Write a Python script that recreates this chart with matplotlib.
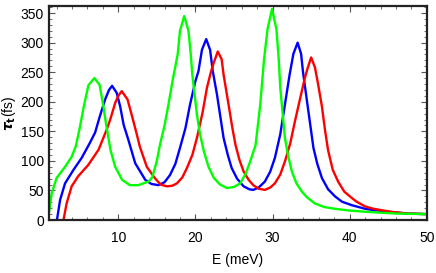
import matplotlib.pyplot as plt
from matplotlib.ticker import MultipleLocator

# values (E in meV, tau in fs)
e_green = [1.0, 1.37, 2.0, 3.1, 3.96, 4.5, 5.07, 5.5, 6.13, 6.9, 7.57, 8.0, 8.5, 9.0, 9.6,
           10.5, 11.5, 12.6, 13.9, 14.4, 15.0, 15.4, 16.0, 16.5, 17.1, 17.7, 18.0, 18.55,
           19.1, 19.4, 19.6, 20.2, 20.6, 21.1, 21.7, 22.4, 23.2, 24.1, 25.0, 25.8, 26.5,
           27.1, 27.8, 28.4, 28.9, 29.35, 29.93, 30.5, 30.8, 31.0, 31.6, 32.0, 32.5, 33.1,
           33.8, 34.5, 35.5, 36.7, 38.1, 40.0, 42.0, 46.0, 50.0]
tau_green = [11, 45, 71, 90, 107, 125, 160, 190, 228, 240, 229, 198, 156, 118, 90,
             68, 59, 59, 65, 72, 100, 127, 160, 195, 240, 280, 320, 345,
             320, 280, 246, 178, 145, 116, 90, 71, 60, 54, 56, 62, 78,
             99, 127, 195, 272, 323, 357, 323, 272, 224, 139, 110, 82, 62,
             48, 38, 28, 22, 19, 16, 14, 11, 10]

e_blue = [2.05, 2.46, 3.1, 4.2, 5.25, 6.3, 7.0, 7.6, 8.3, 8.8, 9.2, 9.8, 10.25, 10.7, 11.3,
          12.2, 13.5, 14.3, 15.2, 16.0, 16.7, 17.4, 18.0, 18.7, 19.3, 20.0, 20.4, 20.85,
          21.4, 21.9, 22.25, 22.8, 23.65, 24.2, 24.7, 25.4, 26.25, 27.0, 27.5, 28.2, 29.0,
          29.7, 30.3, 31.0, 31.6, 32.2, 32.7, 33.25, 33.7, 33.95, 34.4, 34.9, 35.3, 35.8,
          36.4, 37.2, 38.1, 39.0, 40.3, 42.0, 43.0, 45.0, 47.5, 50.0]
tau_blue = [0, 34, 62, 85, 105, 130, 148, 175, 204, 220, 227, 215, 192, 161, 136,
            96, 68, 61, 59, 64, 76, 95, 122, 155, 195, 235, 252, 288,
            306, 288, 252, 212, 139, 110, 88, 70, 57, 52, 51, 55, 65,
            82, 105, 145, 195, 245, 281, 300, 281, 250, 207, 160, 122, 95,
            71, 52, 40, 31, 25, 19, 17, 14, 11, 10]

e_red = [2.9, 3.3, 3.96, 4.8, 6.1, 7.45, 8.5, 8.96, 9.6, 10.0, 10.45, 11.2, 11.8, 12.4,
         12.8, 13.7, 14.8, 15.5, 16.3, 17.0, 17.6, 18.3, 18.9, 19.6, 20.2, 20.9, 21.5,
         22.0, 22.35, 22.9, 23.4, 23.65, 24.3, 24.8, 25.2, 25.7, 26.25, 26.9, 27.5, 28.2,
         29.0, 29.7, 30.3, 31.0, 31.6, 32.3, 32.9, 33.6, 34.2, 34.55, 35.0, 35.5, 35.9,
         36.4, 36.8, 37.2, 37.8, 38.5, 39.3, 40.3, 40.9, 42.0, 43.1, 45.3, 47.5, 50.0]
tau_red = [0, 28, 57, 74, 93, 119, 153, 170, 198, 210, 218, 204, 175, 145,
           124, 90, 70, 60, 57, 58, 62, 72, 88, 110, 139, 180, 224,
           250, 265, 285, 272, 246, 195, 155, 127, 102, 82, 68, 59, 53,
           51, 55, 62, 77, 99, 130, 167, 207, 241, 257, 275, 258, 230,
           192, 152, 118, 85, 65, 48, 37, 31, 23, 19, 14, 11, 10]

plt.rcParams['font.family'] = 'Liberation Sans'

fig = plt.figure(figsize=(4.36, 2.73), dpi=100)
ax = fig.add_axes([0.112, 0.194, 0.867, 0.784])

ax.plot(e_blue, tau_blue, color='#0000ff', lw=1.7)
ax.plot(e_red, tau_red, color='#ff0000', lw=1.7)
ax.plot(e_green, tau_green, color='#00ff00', lw=1.7)

ax.set_xlim(1, 50)
ax.set_ylim(0, 362)
ax.xaxis.set_major_locator(MultipleLocator(10))
ax.xaxis.set_minor_locator(MultipleLocator(2))
ax.yaxis.set_major_locator(MultipleLocator(50))
ax.yaxis.set_minor_locator(MultipleLocator(10))
ax.tick_params(which='both', direction='in', top=True, right=True, labelsize=10,
               color='#555555')
ax.tick_params(which='major', length=4, width=0.8)
ax.tick_params(which='minor', length=2, width=0.6)
ax.tick_params(axis='x', pad=8)
for s in ax.spines.values():
    s.set_linewidth(1.6)
    s.set_color('#222222')

ax.set_xlabel('E (meV)', fontsize=10, labelpad=6)
ax.set_ylabel(r'$\boldsymbol{\tau}_{\mathbf{t}}$(fs)', fontsize=10, labelpad=2)

fig.savefig('out.png', dpi=100)
